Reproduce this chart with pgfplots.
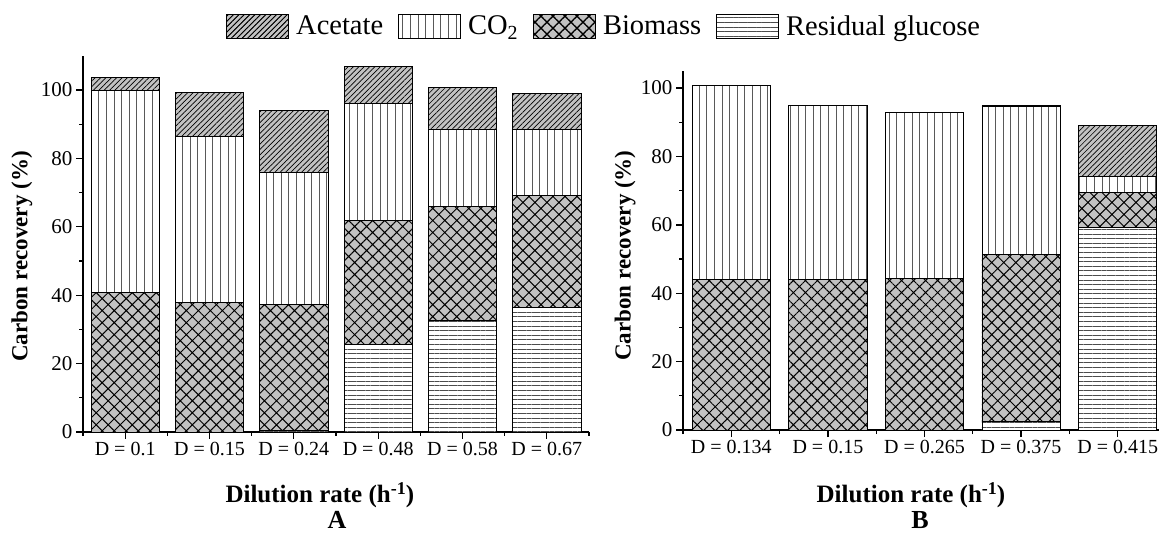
\documentclass[border=0pt]{standalone}
\usepackage{pgfplots}
\pgfplotsset{compat=1.18}
\usepackage{pgfplotstable}
\usetikzlibrary{patterns.meta}
\usepackage{fontspec}
\setmainfont{Liberation Serif}

\definecolor{hatchgray}{gray}{0.76}
\tikzset{
 aceS/.style={draw=black, line width=0.9pt, fill=hatchgray, postaction={pattern={Lines[angle=45,distance=3.8pt,line width=0.7pt]}, pattern color=black}},
 co2S/.style={draw=black, line width=0.9pt, fill=white, postaction={pattern={Lines[angle=90,distance=7.6pt,line width=0.8pt]}, pattern color=black!65}},
 bioS/.style={draw=black, line width=0.9pt, fill=hatchgray, postaction={pattern={Hatch[angle=45,distance=8.5pt,line width=1pt]}, pattern color=black}},
 gluS/.style={draw=black, line width=0.9pt, fill=white, postaction={pattern={Lines[angle=0,distance=4.6pt,line width=0.7pt]}, pattern color=black!70}},
}

% x  glucose  biomass  co2  acetate
\pgfplotstableread{
x gluc bio co2 ace
0 0    40.8 59.1 3.8
1 0    37.8 48.5 12.9
2 0.5  36.9 38.6 18.0
3 25.7 36.1 34.2 11.0
4 32.5 33.5 22.6 12.1
5 36.5 32.6 19.4 10.4
}\tableA
\pgfplotstableread{
x gluc bio co2 ace
0 0    43.9 57.0 0
1 0    43.9 51.0 0
2 0    44.2 48.7 0
3 2.4  49.0 43.1 0.4
4 59.2 10.2 4.8  14.8
}\tableB

\pgfplotsset{
 myax/.style={
  scale only axis, ybar stacked, bar width=0.81,
  axis lines*=left, axis line style={line width=1.6pt},
  tick align=outside, tick style={line width=1.3pt, black},
  major tick length=7pt, minor tick length=4pt,
  ymin=0, ytick={0,20,...,100}, minor y tick num=1,
  /pgf/number format/assume math mode=true,
  yticklabel style={font=\fontsize{21}{21}\selectfont},
  xticklabel style={font=\fontsize{20}{20}\selectfont},
  ylabel={Carbon recovery (\%)},
  ylabel style={font=\fontsize{23}{23}\selectfont\bfseries, anchor=center},
  xlabel={Dilution rate (h\raisebox{0.75ex}{\fontsize{18}{18}\selectfont\bfseries -1})},
  xlabel style={font=\fontsize{25}{25}\selectfont\bfseries, anchor=center, inner sep=0pt},
 }
}

\begin{document}
\begin{tikzpicture}
\path[use as bounding box] (0,0) rectangle (1159pt,533pt);

\begin{axis}[myax,
  at={(83pt,101pt)}, anchor=south west,
  width=506pt, height=376.2pt,
  xmin=-0.5, xmax=5.5, ymax=110,
  xtick={0,...,5}, minor xtick={-0.5,0.5,...,5.5},
  xticklabels={D = 0.1, D = 0.15, D = 0.24, D = 0.48, D = 0.58, D = 0.67},
  ylabel style={at={(axis description cs:-0.1206,0.4665)}},
  xlabel style={at={(axis description cs:0.468,-0.168)}},
  legend style={at={(axis description cs:1.030,1.079)}, anchor=center, draw=none, fill=none,
    legend columns=4, font=\fontsize{28.5}{28.5}\selectfont, nodes={inner sep=2pt},
    /tikz/every even column/.append style={column sep=13pt},
    /tikz/every odd column/.append style={column sep=5pt}},
  legend entries={Acetate, CO\textsubscript{2}, Biomass, Residual glucose},
]
\addlegendimage{aceS, legend image code/.code={\draw[aceS] (0pt,-12pt) rectangle (62pt,12pt);}}
\addlegendimage{co2S, legend image code/.code={\draw[co2S] (0pt,-12pt) rectangle (62pt,12pt);}}
\addlegendimage{bioS, legend image code/.code={\draw[bioS] (0pt,-12pt) rectangle (62pt,12pt);}}
\addlegendimage{gluS, legend image code/.code={\draw[gluS] (0pt,-12pt) rectangle (62pt,12pt);}}
\addplot[gluS] table[x=x,y=gluc] {\tableA};
\addplot[bioS] table[x=x,y=bio] {\tableA};
\addplot[co2S] table[x=x,y=co2] {\tableA};
\addplot[aceS] table[x=x,y=ace] {\tableA};
\end{axis}

\begin{axis}[myax,
  at={(683pt,103pt)}, anchor=south west,
  width=483pt, height=359pt,
  xmin=-0.5, xmax=4.5, ymax=105,
  xtick={0,...,4}, minor xtick={-0.5,0.5,...,4.5},
  xticklabels={D = 0.134, D = 0.15, D = 0.265, D = 0.375, D = 0.415},
  ylabel style={at={(axis description cs:-0.120,0.486)}},
  xlabel style={at={(axis description cs:0.472,-0.182)}},
]
\addplot[gluS] table[x=x,y=gluc] {\tableB};
\addplot[bioS] table[x=x,y=bio] {\tableB};
\addplot[co2S] table[x=x,y=co2] {\tableB};
\addplot[aceS] table[x=x,y=ace] {\tableB};
\end{axis}

\node[anchor=base, inner sep=0pt, font=\fontsize{26}{26}\selectfont\bfseries] at (337pt,5pt) {A};
\node[anchor=base, inner sep=0pt, font=\fontsize{26}{26}\selectfont\bfseries] at (920pt,5pt) {B};
\end{tikzpicture}
\end{document}
